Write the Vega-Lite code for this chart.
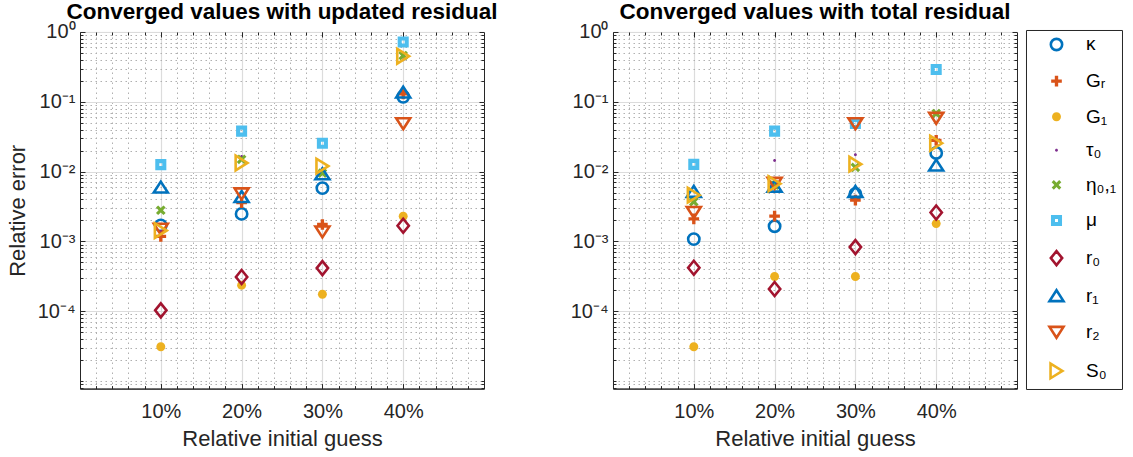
{
  "$schema": "https://vega.github.io/schema/vega-lite/v6.json",
  "background": "white",
  "padding": {"left": 5, "top": 0, "right": 5, "bottom": 5},
  "bounds": "flush",
  "spacing": 129,
  "config": {
    "font": "Liberation Sans",
    "view": {"stroke": "#262626", "strokeWidth": 1},
    "title": {"font": "Liberation Sans", "fontSize": 22.5, "fontWeight": "bold", "color": "#000000", "offset": -1.5},
    "axis": {
      "labelFont": "Liberation Sans",
      "labelFontSize": 20,
      "labelColor": "#262626",
      "titleFont": "Liberation Sans",
      "titleFontSize": 22,
      "titleFontWeight": "normal",
      "titleColor": "#262626",
      "domainColor": "#262626",
      "tickColor": "#262626"
    },
    "legend": {
      "orient": "none",
      "legendX": 946,
      "legendY": -2,
      "title": null,
      "padding": 5,
      "rowPadding": 13.6,
      "symbolOffset": 16,
      "labelOffset": 20,
      "symbolSize": 196,
      "labelFont": "Liberation Sans",
      "labelFontSize": 19,
      "labelColor": "#000000",
      "strokeColor": "#262626",
      "fillColor": "white",
      "symbolStrokeWidth": 2.6
    }
  },
  "data": {
    "values": [
      {"residual": "updated", "guess": 10, "param": "κ", "err": 0.0017},
      {"residual": "updated", "guess": 20, "param": "κ", "err": 0.00248},
      {"residual": "updated", "guess": 30, "param": "κ", "err": 0.0058},
      {"residual": "updated", "guess": 40, "param": "κ", "err": 0.118},
      {"residual": "updated", "guess": 10, "param": "Gᵣ", "err": 0.00118},
      {"residual": "updated", "guess": 20, "param": "Gᵣ", "err": 0.0036},
      {"residual": "updated", "guess": 30, "param": "Gᵣ", "err": 0.00175},
      {"residual": "updated", "guess": 40, "param": "Gᵣ", "err": 0.13},
      {"residual": "updated", "guess": 10, "param": "G₁", "err": 0.000031},
      {"residual": "updated", "guess": 20, "param": "G₁", "err": 0.000235},
      {"residual": "updated", "guess": 30, "param": "G₁", "err": 0.000175},
      {"residual": "updated", "guess": 40, "param": "G₁", "err": 0.0023},
      {"residual": "updated", "guess": 10, "param": "τ₀", "err": 0.0014},
      {"residual": "updated", "guess": 20, "param": "τ₀", "err": 0.0165},
      {"residual": "updated", "guess": 30, "param": "τ₀", "err": 0.011},
      {"residual": "updated", "guess": 40, "param": "τ₀", "err": 0.4},
      {"residual": "updated", "guess": 10, "param": "η₀,₁", "err": 0.0028},
      {"residual": "updated", "guess": 20, "param": "η₀,₁", "err": 0.015},
      {"residual": "updated", "guess": 30, "param": "η₀,₁", "err": 0.0095},
      {"residual": "updated", "guess": 40, "param": "η₀,₁", "err": 0.46},
      {"residual": "updated", "guess": 10, "param": "μ", "err": 0.0126},
      {"residual": "updated", "guess": 20, "param": "μ", "err": 0.038},
      {"residual": "updated", "guess": 30, "param": "μ", "err": 0.0255},
      {"residual": "updated", "guess": 40, "param": "μ", "err": 0.72},
      {"residual": "updated", "guess": 10, "param": "r₀", "err": 0.000103},
      {"residual": "updated", "guess": 20, "param": "r₀", "err": 0.00031},
      {"residual": "updated", "guess": 30, "param": "r₀", "err": 0.000415},
      {"residual": "updated", "guess": 40, "param": "r₀", "err": 0.00168},
      {"residual": "updated", "guess": 10, "param": "r₁", "err": 0.006},
      {"residual": "updated", "guess": 20, "param": "r₁", "err": 0.0044},
      {"residual": "updated", "guess": 30, "param": "r₁", "err": 0.0093},
      {"residual": "updated", "guess": 40, "param": "r₁", "err": 0.138},
      {"residual": "updated", "guess": 10, "param": "r₂", "err": 0.0015},
      {"residual": "updated", "guess": 20, "param": "r₂", "err": 0.0048},
      {"residual": "updated", "guess": 30, "param": "r₂", "err": 0.00137},
      {"residual": "updated", "guess": 40, "param": "r₂", "err": 0.0485},
      {"residual": "updated", "guess": 10, "param": "S₀", "err": 0.00143},
      {"residual": "updated", "guess": 20, "param": "S₀", "err": 0.0133},
      {"residual": "updated", "guess": 30, "param": "S₀", "err": 0.012},
      {"residual": "updated", "guess": 40, "param": "S₀", "err": 0.45},
      {"residual": "total", "guess": 10, "param": "κ", "err": 0.00108},
      {"residual": "total", "guess": 20, "param": "κ", "err": 0.00165},
      {"residual": "total", "guess": 30, "param": "κ", "err": 0.0048},
      {"residual": "total", "guess": 40, "param": "κ", "err": 0.0185},
      {"residual": "total", "guess": 10, "param": "Gᵣ", "err": 0.0021},
      {"residual": "total", "guess": 20, "param": "Gᵣ", "err": 0.0023},
      {"residual": "total", "guess": 30, "param": "Gᵣ", "err": 0.0039},
      {"residual": "total", "guess": 40, "param": "Gᵣ", "err": 0.028},
      {"residual": "total", "guess": 10, "param": "G₁", "err": 0.000031},
      {"residual": "total", "guess": 20, "param": "G₁", "err": 0.000315},
      {"residual": "total", "guess": 30, "param": "G₁", "err": 0.000315},
      {"residual": "total", "guess": 40, "param": "G₁", "err": 0.0018},
      {"residual": "total", "guess": 10, "param": "τ₀", "err": 0.004},
      {"residual": "total", "guess": 20, "param": "τ₀", "err": 0.0144},
      {"residual": "total", "guess": 30, "param": "τ₀", "err": 0.0175},
      {"residual": "total", "guess": 40, "param": "τ₀", "err": 0.065},
      {"residual": "total", "guess": 10, "param": "η₀,₁", "err": 0.0037},
      {"residual": "total", "guess": 20, "param": "η₀,₁", "err": 0.0064},
      {"residual": "total", "guess": 30, "param": "η₀,₁", "err": 0.0115},
      {"residual": "total", "guess": 40, "param": "η₀,₁", "err": 0.068},
      {"residual": "total", "guess": 10, "param": "μ", "err": 0.0127},
      {"residual": "total", "guess": 20, "param": "μ", "err": 0.038},
      {"residual": "total", "guess": 30, "param": "μ", "err": 0.049},
      {"residual": "total", "guess": 40, "param": "μ", "err": 0.29},
      {"residual": "total", "guess": 10, "param": "r₀", "err": 0.00042},
      {"residual": "total", "guess": 20, "param": "r₀", "err": 0.000208},
      {"residual": "total", "guess": 30, "param": "r₀", "err": 0.00083},
      {"residual": "total", "guess": 40, "param": "r₀", "err": 0.0026},
      {"residual": "total", "guess": 10, "param": "r₁", "err": 0.0052},
      {"residual": "total", "guess": 20, "param": "r₁", "err": 0.0062},
      {"residual": "total", "guess": 30, "param": "r₁", "err": 0.0052},
      {"residual": "total", "guess": 40, "param": "r₁", "err": 0.0124},
      {"residual": "total", "guess": 10, "param": "r₂", "err": 0.0026},
      {"residual": "total", "guess": 20, "param": "r₂", "err": 0.0068},
      {"residual": "total", "guess": 30, "param": "r₂", "err": 0.0485},
      {"residual": "total", "guess": 40, "param": "r₂", "err": 0.058},
      {"residual": "total", "guess": 10, "param": "S₀", "err": 0.0046},
      {"residual": "total", "guess": 20, "param": "S₀", "err": 0.0067},
      {"residual": "total", "guess": 30, "param": "S₀", "err": 0.0128},
      {"residual": "total", "guess": 40, "param": "S₀", "err": 0.0255}
    ]
  },
  "resolve": {"scale": {"shape": "shared", "fill": "shared", "stroke": "shared"}},
  "hconcat": [
    {
      "title": "Converged values with updated residual",
      "width": 404,
      "height": 356.6,
      "transform": [{"filter": "datum.residual === 'updated'"}],
      "resolve": {"axis": {"x": "independent", "y": "independent"}},
      "layer": [
        {
          "mark": {"type": "point", "opacity": 0},
          "encoding": {
            "x": {"field": "guess", "type": "quantitative", "scale": {"domain": [0, 50], "nice": false},
              "axis": {"orient": "bottom", "values": [2,4,6,8,12,14,16,18,22,24,26,28,32,34,36,38,42,44,46,48], "labels": false, "domain": false, "title": null, "grid": true, "gridDash": [1.5, 3.5], "gridColor": "#b0b0b0", "tickSize": -3}},
            "y": {"field": "err", "type": "quantitative", "scale": {"type": "log", "domain": [0.0000078, 1], "nice": false},
              "axis": {"orient": "left", "values": [0.000008,0.000009,0.00001,0.00002,0.00003,0.00004,0.00005,0.00006,0.00007,0.00008,0.00009,0.0002,0.0003,0.0004,0.0005,0.0006,0.0007,0.0008,0.0009,0.002,0.003,0.004,0.005,0.006,0.007,0.008,0.009,0.02,0.03,0.04,0.05,0.06,0.07,0.08,0.09,0.2,0.3,0.4,0.5,0.6,0.7,0.8,0.9], "labels": false, "domain": false, "title": null, "grid": true, "gridDash": [1.5, 3.5], "gridColor": "#b0b0b0", "tickSize": -3}}
          }
        },
        {
          "mark": {"type": "point", "opacity": 0},
          "encoding": {
            "x": {"field": "guess", "type": "quantitative",
              "axis": {"orient": "top", "values": [2,4,6,8,10,12,14,16,18,20,22,24,26,28,30,32,34,36,38,40,42,44,46,48], "labels": false, "domain": false, "title": null, "grid": false, "tickSize": -3}},
            "y": {"field": "err", "type": "quantitative",
              "axis": {"orient": "right", "values": [0.000008,0.000009,0.00001,0.00002,0.00003,0.00004,0.00005,0.00006,0.00007,0.00008,0.00009,0.0002,0.0003,0.0004,0.0005,0.0006,0.0007,0.0008,0.0009,0.002,0.003,0.004,0.005,0.006,0.007,0.008,0.009,0.02,0.03,0.04,0.05,0.06,0.07,0.08,0.09,0.2,0.3,0.4,0.5,0.6,0.7,0.8,0.9], "labels": false, "domain": false, "title": null, "grid": false, "tickSize": -3}}
          }
        },
        {
          "mark": {"type": "point", "strokeWidth": 2.6, "opacity": 1, "size": 196},
          "encoding": {
            "x": {"field": "guess", "type": "quantitative",
              "axis": {"orient": "bottom", "values": [10, 20, 30, 40], "labelExpr": "datum.value + '%'", "labelPadding": 18, "title": "Relative initial guess", "titlePadding": 7, "grid": true, "gridColor": "#dcdcdc", "gridWidth": 1.2, "tickSize": -5}},
            "y": {"field": "err", "type": "quantitative",
              "axis": {"orient": "left", "values": [0.0001, 0.001, 0.01, 0.1, 1], "labelExpr": "datum.value > 0.5 ? '10⁰' : datum.value > 0.05 ? '10⁻¹' : datum.value > 0.005 ? '10⁻²' : datum.value > 0.0005 ? '10⁻³' : '10⁻⁴'", "labelPadding": 10, "title": "Relative error", "titlePadding": 8, "grid": true, "gridColor": "#dcdcdc", "gridWidth": 1.2, "tickSize": -5}},
            "shape": {"field": "param", "type": "nominal",
              "scale": {"domain": ["κ", "Gᵣ", "G₁", "τ₀", "η₀,₁", "μ", "r₀", "r₁", "r₂", "S₀"],
                "range": [
                  "M0.81,0A0.81,0.81,0,1,1,-0.81,0A0.81,0.81,0,1,1,0.81,0Z",
                  "M-0.24,-0.76L0.24,-0.76L0.24,-0.24L0.76,-0.24L0.76,0.24L0.24,0.24L0.24,0.76L-0.24,0.76L-0.24,0.24L-0.76,0.24L-0.76,-0.24L-0.24,-0.24Z",
                  "M0.64,0A0.64,0.64,0,1,1,-0.64,0A0.64,0.64,0,1,1,0.64,0Z",
                  "M0.21,0A0.21,0.21,0,1,1,-0.21,0A0.21,0.21,0,1,1,0.21,0Z",
                  "M-0.69,-0.38L-0.38,-0.69L0,-0.31L0.38,-0.69L0.69,-0.38L0.31,0L0.69,0.38L0.38,0.69L0,0.31L-0.38,0.69L-0.69,0.38L-0.31,0Z",
                  "M-0.79,-0.79L0.79,-0.79L0.79,0.79L-0.79,0.79ZM-0.21,-0.21L-0.21,0.21L0.21,0.21L0.21,-0.21Z",
                  "M0,-1L0.81,0L0,1L-0.81,0Z",
                  "M0,-0.78L1,0.78L-1,0.78Z",
                  "M0,0.78L1,-0.78L-1,-0.78Z",
                  "M0.85,0L-0.85,1.05L-0.85,-1.05Z"
                ]}},
            "stroke": {"field": "param", "type": "nominal",
              "scale": {"domain": ["κ", "Gᵣ", "G₁", "τ₀", "η₀,₁", "μ", "r₀", "r₁", "r₂", "S₀"],
                "range": ["#0072BD", "transparent", "transparent", "transparent", "transparent", "transparent", "#A2142F", "#0072BD", "#D95319", "#EDB120"]}},
            "fill": {"field": "param", "type": "nominal",
              "scale": {"domain": ["κ", "Gᵣ", "G₁", "τ₀", "η₀,₁", "μ", "r₀", "r₁", "r₂", "S₀"],
                "range": ["transparent", "#D95319", "#EDB120", "#7E2F8E", "#77AC30", "#4DBEEE", "transparent", "transparent", "transparent", "transparent"]}}
          }
        },
        {
          "mark": {"type": "point", "opacity": 0},
          "encoding": {
            "x": {"field": "guess", "type": "quantitative",
              "axis": {"orient": "top", "values": [10, 20, 30, 40], "labels": false, "domain": false, "title": null, "grid": false, "tickSize": -5}},
            "y": {"field": "err", "type": "quantitative",
              "axis": {"orient": "right", "values": [0.0001, 0.001, 0.01, 0.1, 1], "labels": false, "domain": false, "title": null, "grid": false, "tickSize": -5}}
          }
        }
      ]
    },
    {
      "title": "Converged values with total residual",
      "width": 404,
      "height": 356.6,
      "transform": [{"filter": "datum.residual === 'total'"}],
      "resolve": {"axis": {"x": "independent", "y": "independent"}},
      "layer": [
        {
          "mark": {"type": "point", "opacity": 0},
          "encoding": {
            "x": {"field": "guess", "type": "quantitative", "scale": {"domain": [0, 50], "nice": false},
              "axis": {"orient": "bottom", "values": [2,4,6,8,12,14,16,18,22,24,26,28,32,34,36,38,42,44,46,48], "labels": false, "domain": false, "title": null, "grid": true, "gridDash": [1.5, 3.5], "gridColor": "#b0b0b0", "tickSize": -3}},
            "y": {"field": "err", "type": "quantitative", "scale": {"type": "log", "domain": [0.0000078, 1], "nice": false},
              "axis": {"orient": "left", "values": [0.000008,0.000009,0.00001,0.00002,0.00003,0.00004,0.00005,0.00006,0.00007,0.00008,0.00009,0.0002,0.0003,0.0004,0.0005,0.0006,0.0007,0.0008,0.0009,0.002,0.003,0.004,0.005,0.006,0.007,0.008,0.009,0.02,0.03,0.04,0.05,0.06,0.07,0.08,0.09,0.2,0.3,0.4,0.5,0.6,0.7,0.8,0.9], "labels": false, "domain": false, "title": null, "grid": true, "gridDash": [1.5, 3.5], "gridColor": "#b0b0b0", "tickSize": -3}}
          }
        },
        {
          "mark": {"type": "point", "opacity": 0},
          "encoding": {
            "x": {"field": "guess", "type": "quantitative",
              "axis": {"orient": "top", "values": [2,4,6,8,10,12,14,16,18,20,22,24,26,28,30,32,34,36,38,40,42,44,46,48], "labels": false, "domain": false, "title": null, "grid": false, "tickSize": -3}},
            "y": {"field": "err", "type": "quantitative",
              "axis": {"orient": "right", "values": [0.000008,0.000009,0.00001,0.00002,0.00003,0.00004,0.00005,0.00006,0.00007,0.00008,0.00009,0.0002,0.0003,0.0004,0.0005,0.0006,0.0007,0.0008,0.0009,0.002,0.003,0.004,0.005,0.006,0.007,0.008,0.009,0.02,0.03,0.04,0.05,0.06,0.07,0.08,0.09,0.2,0.3,0.4,0.5,0.6,0.7,0.8,0.9], "labels": false, "domain": false, "title": null, "grid": false, "tickSize": -3}}
          }
        },
        {
          "mark": {"type": "point", "strokeWidth": 2.6, "opacity": 1, "size": 196},
          "encoding": {
            "x": {"field": "guess", "type": "quantitative",
              "axis": {"orient": "bottom", "values": [10, 20, 30, 40], "labelExpr": "datum.value + '%'", "labelPadding": 18, "title": "Relative initial guess", "titlePadding": 7, "grid": true, "gridColor": "#dcdcdc", "gridWidth": 1.2, "tickSize": -5}},
            "y": {"field": "err", "type": "quantitative",
              "axis": {"orient": "left", "values": [0.0001, 0.001, 0.01, 0.1, 1], "labelExpr": "datum.value > 0.5 ? '10⁰' : datum.value > 0.05 ? '10⁻¹' : datum.value > 0.005 ? '10⁻²' : datum.value > 0.0005 ? '10⁻³' : '10⁻⁴'", "labelPadding": 10, "title": null, "grid": true, "gridColor": "#dcdcdc", "gridWidth": 1.2, "tickSize": -5}},
            "shape": {"field": "param", "type": "nominal",
              "scale": {"domain": ["κ", "Gᵣ", "G₁", "τ₀", "η₀,₁", "μ", "r₀", "r₁", "r₂", "S₀"],
                "range": [
                  "M0.81,0A0.81,0.81,0,1,1,-0.81,0A0.81,0.81,0,1,1,0.81,0Z",
                  "M-0.24,-0.76L0.24,-0.76L0.24,-0.24L0.76,-0.24L0.76,0.24L0.24,0.24L0.24,0.76L-0.24,0.76L-0.24,0.24L-0.76,0.24L-0.76,-0.24L-0.24,-0.24Z",
                  "M0.64,0A0.64,0.64,0,1,1,-0.64,0A0.64,0.64,0,1,1,0.64,0Z",
                  "M0.21,0A0.21,0.21,0,1,1,-0.21,0A0.21,0.21,0,1,1,0.21,0Z",
                  "M-0.69,-0.38L-0.38,-0.69L0,-0.31L0.38,-0.69L0.69,-0.38L0.31,0L0.69,0.38L0.38,0.69L0,0.31L-0.38,0.69L-0.69,0.38L-0.31,0Z",
                  "M-0.79,-0.79L0.79,-0.79L0.79,0.79L-0.79,0.79ZM-0.21,-0.21L-0.21,0.21L0.21,0.21L0.21,-0.21Z",
                  "M0,-1L0.81,0L0,1L-0.81,0Z",
                  "M0,-0.78L1,0.78L-1,0.78Z",
                  "M0,0.78L1,-0.78L-1,-0.78Z",
                  "M0.85,0L-0.85,1.05L-0.85,-1.05Z"
                ]}},
            "stroke": {"field": "param", "type": "nominal",
              "scale": {"domain": ["κ", "Gᵣ", "G₁", "τ₀", "η₀,₁", "μ", "r₀", "r₁", "r₂", "S₀"],
                "range": ["#0072BD", "transparent", "transparent", "transparent", "transparent", "transparent", "#A2142F", "#0072BD", "#D95319", "#EDB120"]}},
            "fill": {"field": "param", "type": "nominal",
              "scale": {"domain": ["κ", "Gᵣ", "G₁", "τ₀", "η₀,₁", "μ", "r₀", "r₁", "r₂", "S₀"],
                "range": ["transparent", "#D95319", "#EDB120", "#7E2F8E", "#77AC30", "#4DBEEE", "transparent", "transparent", "transparent", "transparent"]}}
          }
        },
        {
          "mark": {"type": "point", "opacity": 0},
          "encoding": {
            "x": {"field": "guess", "type": "quantitative",
              "axis": {"orient": "top", "values": [10, 20, 30, 40], "labels": false, "domain": false, "title": null, "grid": false, "tickSize": -5}},
            "y": {"field": "err", "type": "quantitative",
              "axis": {"orient": "right", "values": [0.0001, 0.001, 0.01, 0.1, 1], "labels": false, "domain": false, "title": null, "grid": false, "tickSize": -5}}
          }
        }
      ]
    }
  ]
}
